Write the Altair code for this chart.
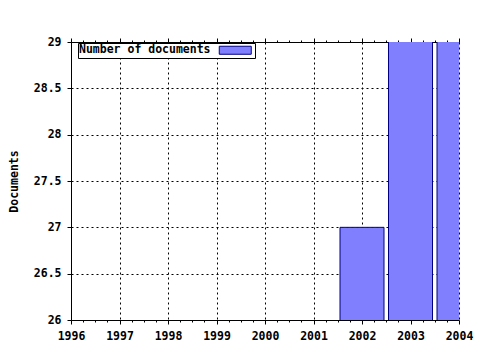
import altair as alt
import pandas as pd

# ---- data ----
years = [2002, 2003, 2004]
documents = [27, 31, 30]          # 2003 and 2004 exceed the 29 top of the axis (clipped)
series = ["Number of documents", "Number of documents", "Number of documents"]

x_major = [1996, 1997, 1998, 1999, 2000, 2001, 2002, 2003, 2004]
x_minor = [1996.25, 1996.5, 1996.75, 1997.25, 1997.5, 1997.75, 1998.25, 1998.5, 1998.75,
           1999.25, 1999.5, 1999.75, 2000.25, 2000.5, 2000.75, 2001.25, 2001.5, 2001.75,
           2002.25, 2002.5, 2002.75, 2003.25, 2003.5, 2003.75]
y_ticks = [26, 26.5, 27, 27.5, 28, 28.5, 29]

df = pd.DataFrame({"year": years, "documents": documents, "series": series})

FONT = "DejaVu Sans Mono"
FS = 11.5
xscale = alt.Scale(domain=[1996, 2004], nice=False, zero=False, padding=0)
yscale = alt.Scale(domain=[26, 29], nice=False, zero=False, padding=0)

common_axis = dict(domainColor="black", tickColor="black", labelColor="black",
                   labelFont=FONT, labelFontSize=FS, labelFontWeight="bold")

bars = alt.Chart(df).mark_bar(width=44, clip=True, stroke="#000080", strokeWidth=1).encode(
    x=alt.X("year:Q", scale=xscale, title=None,
            axis=alt.Axis(values=x_major, format="d", orient="bottom", tickSize=4, labelPadding=6,
                          grid=True, gridColor="black", gridDash=[2, 3], gridOpacity=1,
                          labelFlush=False, labelOverlap=False, **common_axis)),
    y=alt.Y("documents:Q", scale=yscale,
            axis=alt.Axis(values=y_ticks, format="~f", orient="left", tickSize=4, labelPadding=6,
                          grid=True, gridColor="black", gridDash=[2, 3], gridOpacity=1,
                          title="Documents", titleFont=FONT, titleFontSize=FS, titleFontWeight="bold",
                          titleColor="black", titlePadding=14, labelFlush=False, **common_axis)),
    fill=alt.Fill("series:N", scale=alt.Scale(range=["#8080ff"]),
                  legend=alt.Legend(title=None, orient="none", legendX=7, legendY=1,
                                    padding=1.5, strokeColor="black", fillColor="white",
                                    symbolType="M-4,-1H4V1H-4Z", symbolSize=64,
                                    symbolFillColor="#8080ff", symbolStrokeColor="#000080",
                                    symbolStrokeWidth=1, symbolOpacity=1,
                                    symbolOffset=150,
                                    labelFont=FONT, labelFontSize=FS, labelFontWeight="bold",
                                    labelColor="black", labelAlign="left",
                                    labelOffset=alt.ExprRef("-162"),
                                    labelLimit=300)),
)


def axis_layer(values, orient, size, domain):
    return alt.Chart(df).mark_point(opacity=0).encode(
        x=alt.X("year:Q", scale=xscale, title=None,
                axis=alt.Axis(values=values, orient=orient, tickSize=size, labels=False,
                              domain=domain, grid=False, domainColor="black", tickColor="black"))
    )


chart = alt.layer(
    bars,
    axis_layer(x_minor, "bottom", 2, False),
    axis_layer(x_major, "top", 4, True),
    axis_layer(x_minor, "top", 2, False),
).resolve_axis(x="independent").properties(
    width=388, height=278,
    autosize=alt.AutoSizeParams(type="none"),
    padding={"left": 71, "top": 42, "right": 21, "bottom": 30},
).configure_view(stroke=None).configure(background="white")

chart.save("out.html", embed_options={"renderer": "svg", "actions": False})
